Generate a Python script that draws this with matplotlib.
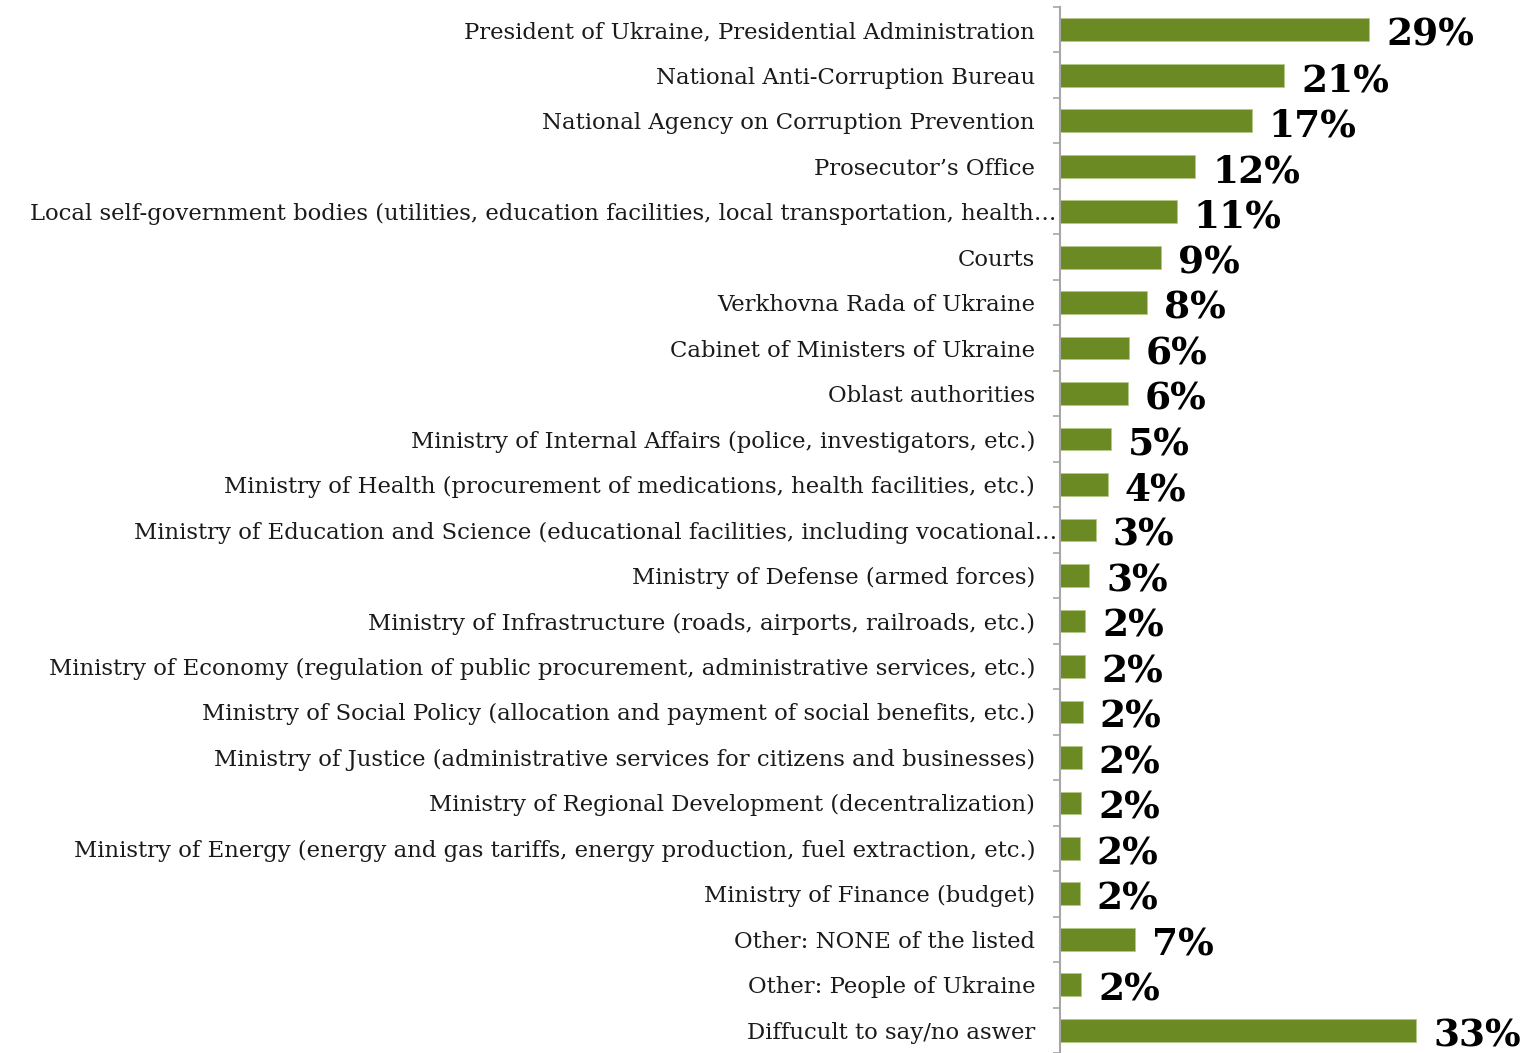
import numpy as np
import matplotlib.pyplot as plt
import matplotlib.transforms as mtransforms
from matplotlib.ticker import FixedLocator

# Categories (top to bottom)
categories = [
    "President of Ukraine, Presidential Administration",
    "National Anti-Corruption Bureau",
    "National Agency on Corruption Prevention",
    "Prosecutor\u2019s Office",
    "Local self-government bodies (utilities, education facilities, local transportation, health\u2026",
    "Courts",
    "Verkhovna Rada of Ukraine",
    "Cabinet of Ministers of Ukraine",
    "Oblast authorities",
    "Ministry of Internal Affairs (police, investigators, etc.)",
    "Ministry of Health (procurement of medications, health facilities, etc.)",
    "Ministry of Education and Science (educational facilities, including vocational\u2026",
    "Ministry of Defense (armed forces)",
    "Ministry of Infrastructure (roads, airports, railroads, etc.)",
    "Ministry of Economy (regulation of public procurement, administrative services, etc.)",
    "Ministry of Social Policy (allocation and payment of social benefits, etc.)",
    "Ministry of Justice (administrative services for citizens and businesses)",
    "Ministry of Regional Development (decentralization)",
    "Ministry of Energy (energy and gas tariffs, energy production, fuel extraction, etc.)",
    "Ministry of Finance (budget)",
    "Other: NONE of the listed",
    "Other: People of Ukraine",
    "Diffucult to say/no aswer",
]

# bar lengths (%)
values = [28.4, 20.6, 17.6, 12.4, 10.7, 9.3, 7.95, 6.3, 6.2, 4.65, 4.4, 3.3, 2.7,
          2.3, 2.25, 2.1, 2.0, 1.95, 1.8, 1.8, 6.9, 1.95, 32.7]

# printed labels
value_labels = ["29%", "21%", "17%", "12%", "11%", "9%", "8%", "6%", "6%", "5%", "4%",
                "3%", "3%", "2%", "2%", "2%", "2%", "2%", "2%", "2%", "7%", "2%", "33%"]

bar_color = "#6B8A23"
axis_gray = "#A6A6A6"

fig = plt.figure(figsize=(15.34, 10.53), dpi=100)
ax = fig.add_axes([1060 / 1534, 0.0, 474 / 1534, 1046 / 1053])

y = np.arange(len(categories))
ax.barh(y, values, height=0.5, color=bar_color, edgecolor="#B5C98A", linewidth=0.6)

ax.set_xlim(0, 43.5)
ax.set_ylim(len(categories) - 0.5, -0.5)

# value labels
for yi, v, lab in zip(y, values, value_labels):
    ax.text(v + 1.55, yi + 0.12, lab, va="center", ha="left",
            fontsize=27, fontweight="bold", family="DejaVu Serif", color="black")

ax.set_yticks(y)
ax.set_yticklabels(categories, family="DejaVu Serif", fontsize=16.4, color="#1a1a1a")
ax.tick_params(axis="y", which="major", length=0, pad=18)
ax.yaxis.set_minor_locator(FixedLocator(np.arange(-0.5, len(categories), 1.0)))
ax.tick_params(axis="y", which="minor", length=5, width=1.2, color=axis_gray, direction="out")

# truncated labels run past the others, up to the axis
shift = mtransforms.ScaledTranslation(22 / 100, 0, fig.dpi_scale_trans)
for t in ax.get_yticklabels():
    if t.get_text().endswith("\u2026"):
        t.set_transform(t.get_transform() + shift)

ax.set_xticks([])
for side in ["top", "right", "bottom"]:
    ax.spines[side].set_visible(False)
ax.spines["left"].set_color(axis_gray)
ax.spines["left"].set_linewidth(1.5)

fig.savefig("out.png", dpi=100, facecolor="white")
